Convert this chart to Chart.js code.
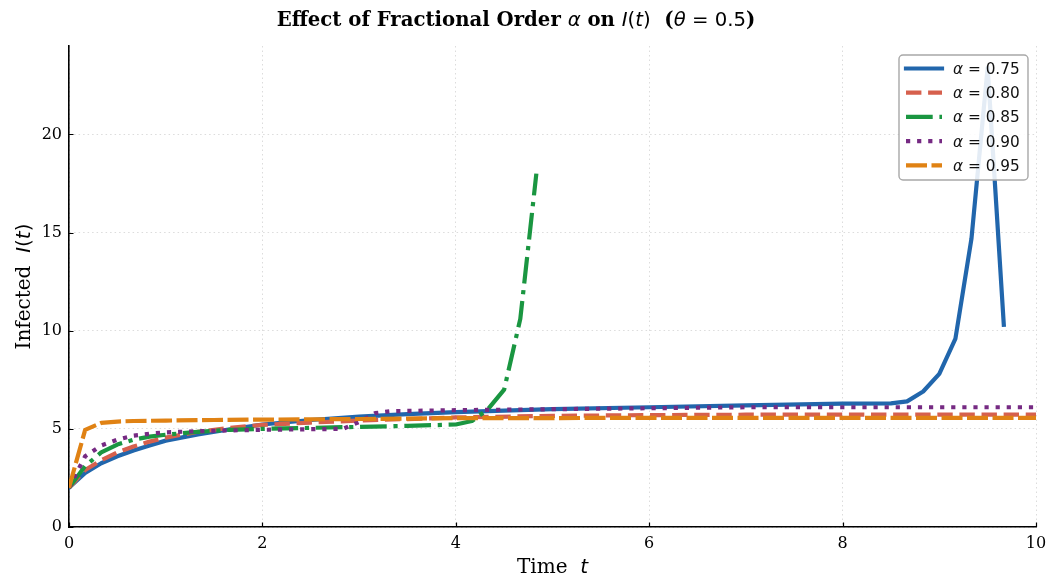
<!DOCTYPE html>
<html>
<head>
<meta charset="utf-8">
<script src="https://cdn.jsdelivr.net/npm/chart.js@4.4.1/dist/chart.umd.min.js"></script>
<style>
  html, body { margin: 0; padding: 0; background: #fff; }
  #wrap { width: 1050px; height: 579px; }
</style>
</head>
<body>
<div id="wrap"><canvas id="chart" width="1050" height="579"></canvas></div>
<script>
// values
const alphaLabels = ['0.75', '0.80', '0.85', '0.90', '0.95'];

const time075 = [0, 0.167, 0.333, 0.5, 0.667, 0.833, 1, 1.333, 1.667, 2, 2.5, 3, 3.5, 4, 5, 6, 7, 8, 8.5, 8.667, 8.833, 9, 9.167, 9.333, 9.5, 9.667];
const infected075 = [2.0, 2.75, 3.25, 3.6, 3.9, 4.15, 4.4, 4.72, 4.98, 5.22, 5.45, 5.62, 5.75, 5.85, 6.0, 6.1, 6.2, 6.28, 6.3, 6.4, 6.9, 7.8, 9.6, 14.7, 23.4, 10.3];

const time080 = [0, 0.167, 0.333, 0.5, 0.667, 0.833, 1, 1.333, 1.667, 2, 2.5, 3, 4, 5, 6, 7, 8, 9, 10];
const infected080 = [2.0, 2.9, 3.4, 3.8, 4.1, 4.35, 4.55, 4.85, 5.05, 5.2, 5.32, 5.42, 5.58, 5.66, 5.7, 5.72, 5.72, 5.72, 5.72];

const time085 = [0, 0.167, 0.333, 0.5, 0.667, 0.833, 1, 1.333, 1.667, 2, 2.5, 3, 3.5, 4, 4.167, 4.333, 4.5, 4.667, 4.833];
const infected085 = [2.0, 3.1, 3.8, 4.2, 4.45, 4.6, 4.7, 4.85, 4.95, 5.0, 5.05, 5.1, 5.15, 5.22, 5.4, 6.0, 7.0, 10.6, 18.0];

const time090 = [0, 0.167, 0.333, 0.5, 0.667, 0.833, 1, 1.333, 1.667, 2, 2.5, 2.833, 3, 3.167, 3.333, 4, 5, 6, 7, 8, 9, 10];
const infected090 = [2.0, 3.6, 4.15, 4.45, 4.65, 4.75, 4.82, 4.88, 4.92, 4.95, 4.98, 5.0, 5.35, 5.8, 5.9, 5.95, 6.0, 6.05, 6.1, 6.1, 6.1, 6.1];

const time095 = [0, 0.167, 0.333, 0.5, 0.667, 1, 1.5, 2, 3, 4, 5, 6, 7, 8, 9, 10];
const infected095 = [2.0, 4.95, 5.3, 5.37, 5.4, 5.42, 5.45, 5.47, 5.5, 5.55, 5.55, 5.56, 5.56, 5.56, 5.56, 5.56];

const xTicks = [0, 2, 4, 6, 8, 10];
const yTicks = [0, 5, 10, 15, 20];

const seriesTimes = [time075, time080, time085, time090, time095];
const seriesValues = [infected075, infected080, infected085, infected090, infected095];
const colors = ['#2166ac', '#d6604d', '#1a9641', '#762a83', '#e08214'];
const dashes = [[], [15.4, 6.7], [26.7, 6.7, 4.2, 6.7], [4.2, 6.9], [21, 4.5]];
const caps = ['square', 'butt', 'butt', 'butt', 'butt'];

const SERIF = "'DejaVu Serif', serif";
const SANS = "'DejaVu Sans', sans-serif";

const datasets = seriesValues.map((vals, i) => ({
    label: 'α = ' + alphaLabels[i],
    data: vals.map((v, k) => ({ x: seriesTimes[i][k], y: v })),
    borderColor: colors[i],
    borderWidth: 4.2,
    borderDash: dashes[i],
    borderCapStyle: caps[i],
    borderJoinStyle: 'round',
    pointRadius: 0,
    tension: 0,
    fill: false,
    order: seriesValues.length - i
}));

// draw a line of text made of several font runs
function drawRuns(ctx, runs, x, y, align) {
    let total = 0;
    runs.forEach(r => { ctx.font = r.font; total += ctx.measureText(r.text).width; });
    let cx = align === 'center' ? x - total / 2 : x;
    ctx.textAlign = 'left';
    ctx.textBaseline = 'alphabetic';
    runs.forEach(r => {
        ctx.font = r.font;
        ctx.fillText(r.text, cx, y);
        cx += ctx.measureText(r.text).width;
    });
}

const decorations = {
    id: 'decorations',
    afterDraw(chart) {
        const ctx = chart.ctx;
        const area = chart.chartArea;
        const xs = chart.scales.x, ys = chart.scales.y;
        ctx.save();
        ctx.fillStyle = '#000';

        // inward tick marks
        ctx.strokeStyle = '#000';
        ctx.lineWidth = 1.2;
        ctx.beginPath();
        xTicks.forEach(v => {
            const px = Math.round(xs.getPixelForValue(v)) + 0.5;
            ctx.moveTo(px, area.bottom);
            ctx.lineTo(px, area.bottom - 4.5);
        });
        yTicks.forEach(v => {
            const py = Math.round(ys.getPixelForValue(v)) + 0.5;
            ctx.moveTo(area.left, py);
            ctx.lineTo(area.left + 4.5, py);
        });
        ctx.stroke();

        // title
        const tb = 'bold 19.7px ' + SERIF;
        const ti = 'italic 19.7px ' + SANS;
        const tr = '19.7px ' + SANS;
        drawRuns(ctx, [
            { text: 'Effect of Fractional Order ', font: tb },
            { text: 'α', font: ti },
            { text: ' on ', font: tb },
            { text: 'I', font: ti },
            { text: '(', font: tr },
            { text: 't', font: ti },
            { text: ')', font: tr },
            { text: '  (', font: tb },
            { text: 'θ', font: ti },
            { text: ' = 0.5', font: tr },
            { text: ')', font: tb }
        ], 516, 26, 'center');

        // axis titles
        const ls = '20px ' + SERIF;
        const li = 'italic 20px ' + SANS;
        const lr = '20px ' + SANS;
        drawRuns(ctx, [
            { text: 'Time  ', font: ls },
            { text: 't', font: li }
        ], (area.left + area.right) / 2, 573, 'center');

        ctx.save();
        ctx.translate(30, (area.top + area.bottom) / 2);
        ctx.rotate(-Math.PI / 2);
        drawRuns(ctx, [
            { text: 'Infected  ', font: ls },
            { text: 'I', font: li },
            { text: '(', font: lr },
            { text: 't', font: li },
            { text: ')', font: lr }
        ], 0, 0, 'center');
        ctx.restore();

        // legend
        const bx = 899, by = 55, bw = 129, bh = 125;
        ctx.beginPath();
        ctx.roundRect(bx, by, bw, bh, 4);
        ctx.fillStyle = 'rgba(255,255,255,0.88)';
        ctx.fill();
        ctx.strokeStyle = '#a8a8a8';
        ctx.lineWidth = 1.4;
        ctx.stroke();
        chart.data.datasets.forEach((ds, i) => {
            const ry = 68.5 + i * 24.2;
            ctx.save();
            ctx.strokeStyle = ds.borderColor;
            ctx.lineWidth = ds.borderWidth;
            ctx.lineCap = ds.borderCapStyle;
            ctx.setLineDash(ds.borderDash);
            ctx.beginPath();
            ctx.moveTo(906, ry);
            ctx.lineTo(942, ry);
            ctx.stroke();
            ctx.restore();
            ctx.fillStyle = '#111';
            drawRuns(ctx, [
                { text: 'α', font: 'italic 15.3px ' + SANS },
                { text: ' = ' + alphaLabels[i], font: '15.3px ' + SANS }
            ], 953, ry + 5.5, 'left');
        });
        ctx.restore();
    }
};

new Chart(document.getElementById('chart'), {
    type: 'line',
    data: { datasets: datasets },
    options: {
        responsive: false,
        animation: false,
        devicePixelRatio: 1,
        layout: { padding: { top: 46, right: 14, left: 0, bottom: 0 } },
        plugins: {
            legend: { display: false },
            title: { display: false },
            tooltip: { enabled: false }
        },
        scales: {
            x: {
                type: 'linear',
                min: 0,
                max: 10,
                afterFit: s => { s.height = 52; s.paddingLeft = 0; s.paddingRight = 0; },
                afterBuildTicks: s => { s.ticks = xTicks.map(v => ({ value: v })); },
                ticks: {
                    stepSize: 2,
                    includeBounds: false,
                    padding: 7,
                    color: '#000',
                    font: { family: SERIF, size: 16 },
                    maxRotation: 0
                },
                grid: { color: '#dcdcdc', lineWidth: 1, drawTicks: false },
                border: { display: true, color: '#000', width: 1.6, dash: [1.5, 3] }
            },
            y: {
                type: 'linear',
                min: 0,
                max: 24.5,
                afterFit: s => { s.width = 69; s.paddingTop = 0; s.paddingBottom = 0; },
                afterBuildTicks: s => { s.ticks = yTicks.map(v => ({ value: v })); },
                ticks: {
                    stepSize: 5,
                    includeBounds: false,
                    padding: 7,
                    color: '#000',
                    font: { family: SERIF, size: 16 }
                },
                grid: { color: '#dcdcdc', lineWidth: 1, drawTicks: false },
                border: { display: true, color: '#000', width: 1.6, dash: [1.5, 3] }
            }
        }
    },
    plugins: [decorations]
});
</script>
</body>
</html>
